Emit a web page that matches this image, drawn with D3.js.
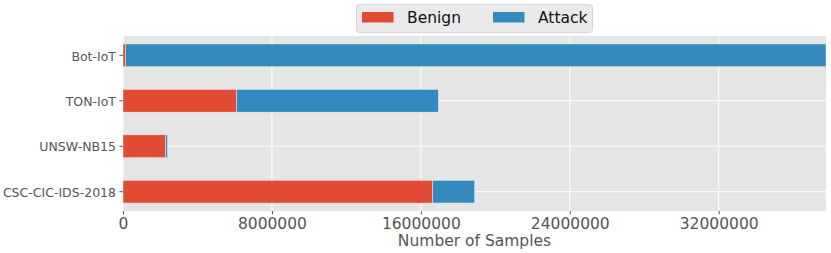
<!DOCTYPE html>
<html lang="en">
  <head>
    <meta charset="utf-8">
    <title>Number of Samples per dataset</title>
    <script src="https://cdn.jsdelivr.net/npm/d3@7"></script>
    <style>
      body { margin: 0; background: #fff; }
      text { font-family: "DejaVu Sans", sans-serif; fill: #555555; }
    </style>
  </head>
  <body>
    <div id="chart"></div>

    <script type="text/javascript">

      // data, bottom to top
      var datasets = ["CSC-CIC-IDS-2018", "UNSW-NB15", "TON-IoT", "Bot-IoT"];
      var benign   = [16635567, 2295222, 6099469, 135037];
      var attack   = [2258141, 95053, 10841027, 37628460];
      var xTicks   = [0, 8000000, 16000000, 24000000, 32000000];
      var seriesNames = ["Benign", "Attack"];
      var colors   = ["#E24A33", "#348ABD"];

      var W = 831, H = 253;
      var plot = {left: 123, right: 826, top: 36, bottom: 211};

      var svg = d3.select("#chart").append("svg")
        .attr("width", W)
        .attr("height", H);

      var rows = datasets.map(function(d, i) {
        return {name: d, Benign: benign[i], Attack: attack[i]};
      });

      var stack = d3.stack().keys(seriesNames)(rows);

      var x = d3.scaleLinear()
        .domain([0, d3.max(rows, function(r) { return r.Benign + r.Attack; })])
        .range([plot.left, plot.right]);

      // top of the chart is the last entry
      var y = d3.scaleBand()
        .domain(datasets.slice().reverse())
        .range([plot.top, plot.bottom])
        .paddingInner(0.5)
        .paddingOuter(0.175);

      /*
       * background + grid
       */
      svg.append("rect")
        .attr("x", plot.left).attr("y", plot.top)
        .attr("width", plot.right - plot.left)
        .attr("height", plot.bottom - plot.top)
        .attr("fill", "#E5E5E5");

      svg.append("g").selectAll("line")
        .data(xTicks)
        .enter().append("line")
        .attr("x1", function(d) { return x(d); })
        .attr("x2", function(d) { return x(d); })
        .attr("y1", plot.top).attr("y2", plot.bottom)
        .attr("stroke", "#fff").attr("stroke-width", 1);

      svg.append("g").selectAll("line")
        .data(datasets)
        .enter().append("line")
        .attr("x1", plot.left).attr("x2", plot.right)
        .attr("y1", function(d) { return y(d) + y.bandwidth() / 2; })
        .attr("y2", function(d) { return y(d) + y.bandwidth() / 2; })
        .attr("stroke", "#fff").attr("stroke-width", 1);

      /*
       * bars
       */
      svg.append("clipPath").attr("id", "plot-clip")
        .append("rect")
        .attr("x", plot.left).attr("y", plot.top)
        .attr("width", plot.right - plot.left)
        .attr("height", plot.bottom - plot.top);

      svg.append("g").attr("clip-path", "url(#plot-clip)")
        .selectAll("g")
        .data(stack)
        .enter().append("g")
        .attr("fill", function(d, i) { return colors[i]; })
        .selectAll("rect")
        .data(function(d) { return d; })
        .enter().append("rect")
        .attr("x", function(d) { return x(d[0]); })
        .attr("width", function(d) { return x(d[1]) - x(d[0]); })
        .attr("y", function(d) { return y(d.data.name); })
        .attr("height", y.bandwidth())
        .attr("stroke", "#EEEEEE")
        .attr("stroke-width", 0.5);

      /*
       * axes
       */
      var xAxis = d3.axisBottom(x)
        .tickValues(xTicks)
        .tickFormat(d3.format("d"))
        .tickSize(3.5)
        .tickPadding(3);

      var gX = svg.append("g")
        .attr("transform", "translate(0," + plot.bottom + ")")
        .call(xAxis);
      gX.select(".domain").remove();
      gX.selectAll("line").attr("stroke", "#555555");
      gX.selectAll("text")
        .style("font-size", "15.5px")
        .style("font-family", "DejaVu Sans")
        .attr("fill", "#555555");

      var yAxis = d3.axisLeft(y)
        .tickSize(3.5)
        .tickPadding(3.5);

      var gY = svg.append("g")
        .attr("transform", "translate(" + plot.left + ",0)")
        .call(yAxis);
      gY.select(".domain").remove();
      gY.selectAll("line").attr("stroke", "#555555");
      gY.selectAll("text")
        .attr("dy", "0.42em")
        .style("font-size", "12.5px")
        .style("font-family", "DejaVu Sans")
        .attr("fill", "#555555");

      svg.append("text")
        .attr("x", (plot.left + plot.right) / 2)
        .attr("y", 246)
        .attr("text-anchor", "middle")
        .style("font-size", "15.5px")
        .text("Number of Samples");

      /*
       * legend
       */
      var legend = svg.append("g");
      legend.append("rect")
        .attr("x", 356.5).attr("y", 4.5)
        .attr("width", 236).attr("height", 28)
        .attr("rx", 3)
        .attr("fill", "#EAEAEA")
        .attr("stroke", "#D6D6D6");

      var legendX = [362, 493];
      seriesNames.forEach(function(name, i) {
        legend.append("rect")
          .attr("x", legendX[i]).attr("y", 12)
          .attr("width", 31.5).attr("height", 10.5)
          .attr("fill", colors[i]);
        legend.append("text")
          .attr("x", legendX[i] + 45)
          .attr("y", 23.3)
          .style("font-size", "15.5px")
          .style("fill", "#111")
          .text(name);
      });

    </script>
  </body>
</html>
